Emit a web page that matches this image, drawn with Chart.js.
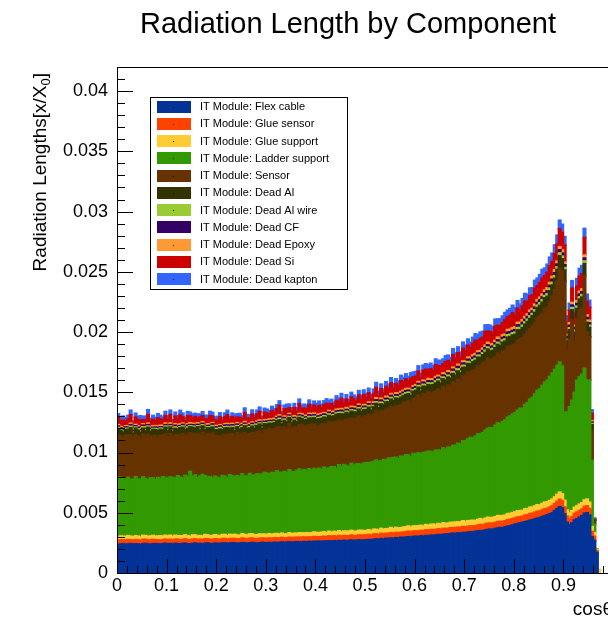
<!DOCTYPE html>
<html>
<head>
<meta charset="UTF-8">
<title>Radiation Length by Component</title>
<script src="https://cdn.jsdelivr.net/npm/chart.js"></script>
<style>
  html, body { margin: 0; padding: 0; background: #fff; overflow: hidden; }
  canvas { display: block; }
</style>
</head>
<body>
<canvas id="c" width="696" height="617"></canvas>
<script>
// histogram: 200 bins of 0.005 in cos(theta), values in units of 1e-5 X0
const UNIT = 1e-5;
const BIN_WIDTH = 0.005;

const xTickValues = [0, 0.1, 0.2, 0.3, 0.4, 0.5, 0.6, 0.7, 0.8, 0.9];
const xTickLabels = ['0', '0.1', '0.2', '0.3', '0.4', '0.5', '0.6', '0.7', '0.8', '0.9'];
const yTickValues = [0, 0.005, 0.01, 0.015, 0.02, 0.025, 0.03, 0.035, 0.04];
const yTickLabels = ['0', '0.005', '0.01', '0.015', '0.02', '0.025', '0.03', '0.035', '0.04'];

const seriesNames = [
  'IT Module: Flex cable', 'IT Module: Glue sensor', 'IT Module: Glue support',
  'IT Module: Ladder support', 'IT Module: Sensor', 'IT Module: Dead Al',
  'IT Module: Dead Al wire', 'IT Module: Dead CF', 'IT Module: Dead Epoxy',
  'IT Module: Dead Si', 'IT Module: Dead kapton'
];

const flexCable = [
  236,240,243,238,241,244,239,242,240,237,243,245,240,238,242,244,241,239,243,246,
  242,244,240,246,243,241,245,247,242,240,244,248,243,245,241,246,249,244,242,247,
  246,244,248,250,245,247,251,249,246,248,252,250,247,249,253,251,248,250,254,252,
  250,253,251,255,252,254,257,253,256,258,255,257,260,256,259,261,258,262,260,263,
  262,264,261,266,263,267,265,268,264,269,267,271,268,270,273,269,272,275,271,274,
  275,278,274,280,283,279,285,282,288,286,290,287,293,291,296,294,298,301,297,303,
  305,302,308,306,311,309,314,312,316,319,317,321,324,322,327,330,328,333,331,336,
  335,339,342,340,346,349,352,350,357,361,364,362,369,373,377,375,383,388,392,398,
  405,410,414,420,425,431,437,442,449,455,460,468,475,483,490,498,518,535,550,540,
  490,420,400,415,440,450,462,475,495,500,480,300,270,170,0,0,0,0,0,0
];
const glueSensor = [
  33,35,32,34,36,31,33,35,34,32,36,34,33,35,37,32,34,36,33,35,
  34,36,33,35,37,34,32,36,35,33,37,35,34,36,33,38,35,34,36,37,
  35,34,37,36,33,38,35,37,36,34,38,36,35,39,37,34,36,38,35,37,
  36,38,35,37,39,36,38,37,35,39,37,38,36,40,38,37,39,36,38,40,
  38,37,40,39,37,41,38,40,39,42,38,40,41,39,42,40,38,41,43,40,
  40,42,39,43,41,40,44,42,41,43,45,42,44,43,41,45,44,46,43,45,
  44,46,45,43,47,45,46,48,44,47,46,49,45,47,48,46,49,47,48,50,
  47,49,48,50,46,49,51,48,50,52,49,51,50,53,51,52,50,54,52,53,
  52,54,53,51,55,53,56,54,55,57,53,56,58,55,57,59,58,60,62,60,
  58,52,50,52,54,55,56,55,57,58,55,45,35,15,0,0,0,0,0,0
];
const glueSupport = [
  30,32,29,31,33,30,28,32,31,29,33,31,30,34,32,29,31,33,30,32,
  31,33,30,32,29,34,31,33,32,30,34,32,31,29,33,35,32,30,34,33,
  32,30,34,33,31,35,32,34,33,31,35,33,32,36,34,31,33,35,32,34,
  33,35,32,34,36,33,35,34,32,36,34,35,33,37,35,34,36,33,35,37,
  35,34,37,36,34,38,35,37,36,39,35,37,38,36,39,37,35,38,40,37,
  37,39,36,40,38,37,41,39,38,40,42,39,41,40,38,42,41,43,40,42,
  41,43,42,40,44,42,43,45,41,44,43,46,42,44,45,43,46,44,45,47,
  44,46,45,47,43,46,48,45,47,49,46,48,47,50,48,49,47,51,49,50,
  49,51,50,48,52,50,53,51,52,54,50,53,55,52,54,56,55,57,59,57,
  55,50,47,49,51,52,53,52,54,55,52,40,30,10,30,0,0,0,0,0
];
const ladderSupport = [
  495,488,480,476,484,470,478,490,472,480,486,474,468,482,478,470,485,476,492,480,
  478,484,490,472,498,486,480,494,488,540,486,498,482,494,510,488,480,492,476,486,
  482,476,490,484,478,496,488,480,492,486,498,484,490,502,488,496,506,494,500,512,
  510,498,516,506,520,512,504,518,510,524,514,508,522,530,516,526,518,534,522,528,
  526,534,520,538,530,526,544,536,530,548,540,552,544,538,556,548,560,552,546,562,
  564,556,570,562,576,568,560,578,572,584,576,590,582,574,594,586,598,590,584,602,
  598,606,594,610,602,614,606,598,618,610,608,622,616,630,624,640,636,652,648,664,
  672,680,690,684,700,710,704,722,730,738,748,742,760,770,764,780,790,800,810,818,
  824,836,850,846,866,880,896,910,930,950,964,980,996,1010,1030,1046,1060,1070,1080,1060,
  733,814,883,917,955,1043,1057,1068,1094,987,1013,550,70,5,0,0,0,0,0,0
];
const sensor = [
  352,340,330,365,348,372,338,350,360,334,356,344,378,342,350,366,336,358,344,362,
  346,358,336,362,340,352,370,334,348,320,356,342,366,338,350,330,360,346,372,340,
  344,356,332,348,362,338,350,326,358,342,336,360,344,330,352,340,348,362,334,350,
  356,372,350,366,364,378,356,370,362,382,360,374,352,368,386,358,372,364,380,366,
  362,354,376,360,368,384,362,372,390,370,380,366,384,392,374,388,378,396,384,382,
  386,402,380,396,408,392,414,404,420,410,426,416,430,440,426,446,438,450,444,456,
  468,480,462,488,476,492,484,498,490,508,496,512,504,518,510,526,516,532,524,538,
  540,552,544,560,554,568,560,576,570,586,560,574,566,578,570,584,574,588,580,574,
  570,582,574,588,580,592,584,596,588,602,606,598,612,606,618,640,660,700,780,790,
  1084,514,560,667,420,510,557,550,770,400,360,250,30,0,0,0,0,0,0,0
];
const deadAl = [
  52,48,55,46,50,58,44,53,49,56,47,51,60,45,52,48,55,50,46,54,
  50,56,45,53,48,58,51,46,55,49,52,47,57,44,53,50,48,56,51,45,
  49,54,47,52,57,45,50,55,48,53,46,58,51,47,54,49,52,56,45,53,
  51,47,55,49,53,58,46,52,57,50,48,55,51,59,47,53,50,56,49,54,
  52,56,49,54,58,51,55,50,57,53,60,52,56,49,58,54,51,57,55,59,
  54,58,52,57,61,55,59,53,60,57,63,56,61,58,64,59,62,57,65,60,
  60,64,58,63,67,61,65,62,68,64,66,61,69,65,63,70,66,68,64,71,
  68,72,66,71,75,69,73,70,76,72,74,70,78,73,77,75,80,76,79,82,
  80,84,78,83,87,81,86,82,89,85,88,92,87,90,94,91,95,98,102,100,
  94,75,78,84,78,85,88,90,98,80,78,45,5,0,0,0,0,0,0,0
];
const deadAlWire = [
  10,9,11,10,8,12,10,9,11,10,12,9,10,11,8,10,12,9,11,10,
  11,9,10,12,10,8,11,10,12,9,10,11,9,12,10,11,9,10,12,11,
  10,12,9,11,10,12,11,9,10,12,11,10,9,12,11,10,12,10,11,9,
  11,10,12,10,11,13,10,12,11,10,12,11,13,10,12,11,10,13,11,12,
  12,11,13,12,10,13,12,11,13,12,14,11,12,13,12,14,11,13,12,13,
  12,14,13,12,14,13,15,12,14,13,15,14,13,15,14,13,15,14,16,14,
  14,15,13,16,14,15,16,14,17,15,16,15,17,16,15,17,16,18,16,17,
  16,17,16,18,17,16,18,17,19,17,18,17,19,18,17,19,18,20,19,18,
  19,20,18,21,19,20,22,19,21,20,22,21,20,22,21,23,22,21,24,23,
  21,17,18,19,18,20,20,21,22,19,18,10,2,0,0,0,0,0,0,0
];
const deadCF = [
  12,11,13,12,10,14,12,11,13,12,14,11,12,13,10,12,14,11,13,12,
  13,11,12,14,12,10,13,12,14,11,12,13,11,14,12,13,11,12,14,13,
  12,14,11,13,12,14,13,11,12,14,13,12,11,14,13,12,14,12,13,11,
  13,12,14,12,13,15,12,14,13,12,14,13,15,12,14,13,12,15,13,14,
  14,13,15,14,12,15,14,13,15,14,16,13,14,15,14,16,13,15,14,15,
  14,16,15,14,16,15,17,14,16,15,17,16,15,17,16,15,17,16,18,16,
  16,17,15,18,16,17,18,16,19,17,18,17,19,18,17,19,18,20,18,19,
  18,19,18,20,19,18,20,19,21,19,20,19,21,20,19,21,20,22,21,20,
  21,22,20,23,21,22,24,21,23,22,24,23,22,24,23,25,24,23,26,25,
  23,19,20,21,20,22,22,23,24,21,20,12,2,0,0,0,0,0,0,0
];
const deadEpoxy = [
  11,13,12,10,13,12,14,11,12,13,11,14,12,10,13,12,11,14,12,13,
  12,14,11,13,12,14,11,13,12,15,12,11,14,12,13,11,14,13,11,12,
  13,11,14,12,13,11,12,14,13,11,12,14,13,12,11,14,12,13,11,14,
  12,14,13,15,12,13,14,12,15,13,12,14,13,12,15,13,14,12,14,13,
  13,15,14,12,15,14,13,16,14,13,15,14,16,13,15,14,16,14,13,16,
  15,14,16,15,17,14,16,15,17,16,15,17,16,14,17,16,18,15,17,16,
  17,16,18,16,17,19,16,18,17,16,19,18,17,19,18,17,20,18,19,17,
  19,18,20,19,21,18,20,19,21,20,19,21,20,22,19,21,20,22,21,23,
  22,21,23,22,24,21,23,22,25,23,22,24,23,25,24,23,26,24,25,26,
  22,20,21,22,21,23,23,24,25,22,21,12,2,0,0,0,0,0,0,0
];
const deadSi = [
  58,45,62,38,55,70,42,60,50,66,35,57,72,48,54,40,68,52,44,63,
  55,70,40,62,48,75,52,38,66,58,44,61,35,70,50,57,42,68,54,46,
  48,64,40,57,72,38,55,66,45,60,36,74,52,43,65,50,58,70,40,62,
  56,42,70,50,63,78,40,58,72,48,55,66,45,80,42,62,54,74,48,65,
  60,72,46,64,80,52,68,44,75,58,84,50,70,46,78,62,55,76,60,82,
  58,76,52,70,86,60,78,54,82,66,88,60,76,64,90,68,80,62,92,74,
  70,86,64,82,96,72,88,68,98,80,90,74,100,84,78,104,86,96,76,106,
  84,98,80,96,110,86,100,90,112,94,104,88,118,98,110,102,120,104,112,124,
  100,118,96,114,126,104,120,110,130,116,122,134,118,128,138,124,132,140,150,145,
  140,98,104,118,100,120,124,126,145,112,108,60,5,0,0,0,0,0,0,0
];
const deadKapton = [
  32,26,35,28,30,38,24,33,29,36,27,31,40,25,32,28,35,30,26,34,
  30,36,25,33,28,38,31,26,35,29,32,27,37,24,33,30,28,36,31,25,
  29,34,27,32,37,25,30,35,28,33,26,38,31,27,34,29,32,36,25,33,
  31,27,35,29,33,38,26,32,37,30,28,35,31,39,27,33,30,36,29,34,
  32,36,29,34,38,31,35,30,37,33,40,32,36,29,38,34,31,37,35,39,
  34,38,32,37,41,35,39,33,40,37,43,36,41,38,44,39,42,37,45,40,
  40,44,38,43,47,41,45,42,48,44,46,41,49,45,43,50,46,48,44,51,
  48,52,46,51,55,49,53,50,56,52,54,50,58,53,57,55,60,56,59,62,
  58,62,56,61,65,59,64,60,67,63,66,70,65,68,72,69,73,76,70,68,
  72,55,58,62,58,64,66,68,76,60,58,30,5,0,0,0,0,0,0,0
];

const series = [flexCable, glueSensor, glueSupport, ladderSupport, sensor, deadAl,
                deadAlWire, deadCF, deadEpoxy, deadSi, deadKapton];
const colors = ['#033397', '#ff4200', '#ffcc33', '#339900', '#663300', '#333300',
                '#99cc33', '#330066', '#ff9933', '#cc0000', '#3366ff'];

// bin centres
const binCenters = flexCable.map((_, i) => (i + 0.5) * BIN_WIDTH);

const datasets = series.map((vals, k) => ({
  label: seriesNames[k],
  backgroundColor: colors[k],
  borderWidth: 0,
  barPercentage: 1,
  categoryPercentage: 1,
  inflateAmount: 0.8,
  data: vals.map((v, i) => ({ x: binCenters[i], y: v ? v * UNIT : null }))
}));

const FONT = 'Liberation Sans';
const TITLE = 'Radiation Length by Component';

// ROOT style title, frame, inward ticks, legend box and axis titles
const rootDecor = {
  id: 'rootDecor',
  afterDraw(chart) {
    const { ctx, chartArea: a } = chart;
    const xs = chart.scales.x, ys = chart.scales.y;
    ctx.save();
    ctx.fillStyle = '#000';
    ctx.font = '29px "' + FONT + '"';
    ctx.textAlign = 'center';
    ctx.textBaseline = 'alphabetic';
    ctx.fillText(TITLE, 348, 33);

    ctx.strokeStyle = '#000';
    ctx.lineWidth = 1;
    ctx.strokeRect(Math.round(a.left) + 0.5, Math.round(a.top) + 0.5,
                   Math.round(a.right - a.left), Math.round(a.bottom - a.top));

    ctx.beginPath();
    for (let i = 0; i <= 50; i++) {
      const px = Math.round(xs.getPixelForValue(i * 0.02)) + 0.5;
      const len = i % 5 === 0 ? 14 : 7;
      ctx.moveTo(px, a.bottom);
      ctx.lineTo(px, a.bottom - len);
    }
    for (let i = 0; i <= 42; i++) {
      const py = Math.round(ys.getPixelForValue(i * 0.001)) + 0.5;
      const len = i % 5 === 0 ? 16 : 8;
      ctx.moveTo(a.left, py);
      ctx.lineTo(a.left + len, py);
    }
    ctx.stroke();

    // legend
    const lx = a.left + 33, ly = a.top + 30, lw = 197, lh = 192, rowH = 17.25;
    ctx.fillStyle = '#fff';
    ctx.fillRect(lx, ly, lw, lh);
    ctx.strokeRect(Math.round(lx) + 0.5, Math.round(ly) + 0.5, lw, lh);
    ctx.font = '11px "' + FONT + '"';
    ctx.textBaseline = 'middle';
    ctx.textAlign = 'left';
    chart.data.datasets.forEach((ds, i) => {
      const cy = ly + 9.5 + i * rowH;
      ctx.fillStyle = ds.backgroundColor;
      ctx.fillRect(lx + 7, Math.round(cy - 6), 34, 12);
      ctx.fillStyle = '#000';
      ctx.fillRect(lx + 23, Math.round(cy), 1, 1);
      ctx.fillText(ds.label, lx + 50, cy + 0.5);
    });

    // y title with subscript
    ctx.save();
    ctx.translate(46, a.top + 6);
    ctx.rotate(-Math.PI / 2);
    ctx.textBaseline = 'alphabetic';
    ctx.textAlign = 'left';
    const mainFont = '19px "' + FONT + '"', subFont = '13px "' + FONT + '"';
    ctx.font = mainFont;
    const wTail = ctx.measureText(']').width;
    const wMain = ctx.measureText('Radiation Lengths[x/X').width;
    ctx.font = subFont;
    const wSub = ctx.measureText('0').width;
    ctx.fillText('0', -wTail - wSub, 4);
    ctx.font = mainFont;
    ctx.fillText(']', -wTail, 0);
    ctx.fillText('Radiation Lengths[x/X', -wTail - wSub - wMain, 0);
    ctx.restore();

    // x title
    ctx.font = '19px "' + FONT + '"';
    ctx.textAlign = 'right';
    ctx.textBaseline = 'alphabetic';
    ctx.fillStyle = '#000';
    ctx.fillText('cos\u03b8', a.right, 615);
    ctx.restore();
  }
};

Chart.defaults.font.family = FONT;
Chart.defaults.color = '#000';

new Chart(document.getElementById('c'), {
  type: 'bar',
  data: { datasets },
  plugins: [rootDecor],
  options: {
    responsive: false,
    animation: false,
    devicePixelRatio: 1,
    layout: { padding: { left: 0, right: 83, top: 67, bottom: 0 } },
    plugins: {
      legend: { display: false },
      tooltip: { enabled: false },
      title: { display: false }
    },
    scales: {
      x: {
        type: 'linear',
        stacked: true,
        min: 0,
        max: 1,
        offset: false,
        grid: { display: false, drawTicks: false },
        border: { display: false },
        afterBuildTicks: s => { s.ticks = xTickValues.map(v => ({ value: v })); },
        afterFit: s => { s.height = 44; },
        ticks: {
          font: { size: 18 },
          padding: 2,
          maxRotation: 0,
          autoSkip: false,
          callback: (v, i) => xTickLabels[i]
        }
      },
      y: {
        stacked: true,
        min: 0,
        max: 0.042,
        grid: { display: false, drawTicks: false },
        border: { display: false },
        afterBuildTicks: s => { s.ticks = yTickValues.map(v => ({ value: v })); },
        afterFit: s => { s.width = 117; },
        ticks: {
          font: { size: 18 },
          padding: 9,
          autoSkip: false,
          callback: (v, i) => yTickLabels[i]
        }
      }
    }
  }
});
</script>
</body>
</html>
